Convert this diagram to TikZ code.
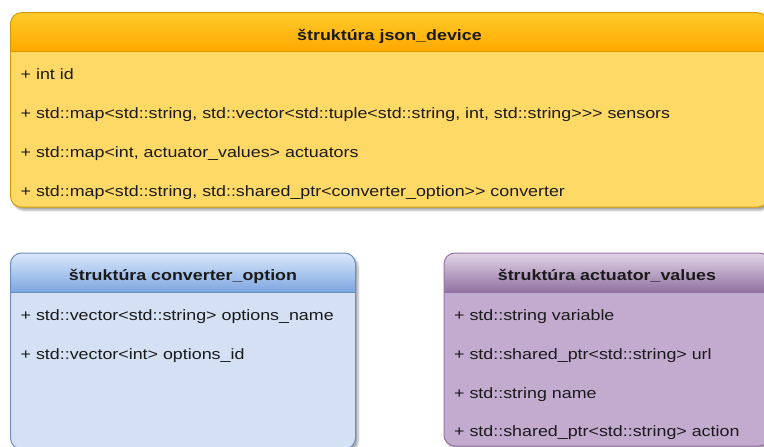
\documentclass[tikz,border=0pt]{standalone}
\usepackage{fontspec}
\setmainfont{Liberation Sans}[FakeStretch=1.19,Ligatures=TeXOff]
\usetikzlibrary{calc,shadows.blur}
\definecolor{ytop}{HTML}{FFCB2A}
\definecolor{ybot}{HTML}{FFA800}
\definecolor{ybody}{HTML}{FFD966}
\definecolor{ystroke}{HTML}{D79B00}
\definecolor{btop}{HTML}{DAE8FC}
\definecolor{bbot}{HTML}{7EA6E0}
\definecolor{bbody}{HTML}{D4E1F5}
\definecolor{bstroke}{HTML}{6C8EBF}
\definecolor{ptop}{HTML}{E1D5E7}
\definecolor{pbot}{HTML}{9272A3}
\definecolor{pbody}{HTML}{C3ABD0}
\definecolor{pstroke}{HTML}{9673A6}
\definecolor{txt}{HTML}{1A1A1A}
\tikzset{
  umlbox/.style={rectangle, rounded corners=11pt, inner sep=0pt, outer sep=0pt, anchor=north west,
    blur shadow={shadow xshift=2.5pt, shadow yshift=-3pt, shadow blur radius=2pt, shadow opacity=35}},
  attr/.style={anchor=base west, inner sep=0pt, font=\fontsize{15}{18}\selectfont, text=txt},
  boxtitle/.style={anchor=base, inner sep=0pt, font=\fontsize{15}{18}\selectfont\bfseries, text=txt},
}
\newcommand\umlheader[4]{%
  \begin{scope}
    \clip[rounded corners=11pt] (#1.south west) rectangle (#1.north east);
    \shade[top color=#2, bottom color=#3] (#1.north west) rectangle ($(#1.north east)+(0,-39)$);
  \end{scope}
  \draw[#4, line width=1pt] ($(#1.north west)+(0,-39)$) -- ($(#1.north east)+(0,-39)$);
  \draw[#4, line width=1pt, rounded corners=11pt] (#1.south west) rectangle (#1.north east);
}
\begin{document}
\begin{tikzpicture}[x=1pt,y=1pt]
\useasboundingbox (0,0) rectangle (764,-447);
% boxes
\node[umlbox, fill=ybody, minimum width=758pt, minimum height=194.5pt] (jd) at (10.5,-12.7) {};
\node[umlbox, fill=bbody, minimum width=345pt, minimum height=196pt] (co) at (10.5,-253) {};
\node[umlbox, fill=pbody, minimum width=326pt, minimum height=193pt] (av) at (444,-253) {};
\umlheader{jd}{ytop}{ybot}{ystroke}
\umlheader{co}{btop}{bbot}{bstroke}
\umlheader{av}{ptop}{pbot}{pstroke}
% titles
\node[boxtitle] (jdt) at ($(jd.north)+(0,-27.3)$) {štruktúra json\_device};
\node[boxtitle] (cot) at ($(co.north)+(0,-27.3)$) {štruktúra converter\_option};
\node[boxtitle] (avt) at ($(av.north)+(0,-27.3)$) {štruktúra actuator\_values};
% json_device
\node[attr] (jd1) at (20.5,-79.2) {+ int id};
\node[attr] (jd2) at (20.5,-118.5) {+ std::map<std::string, std::vector<std::tuple<std::string, int, std::string>{}>{}> sensors};
\node[attr] (jd3) at (20.5,-157.6) {+ std::map<int, actuator\_values> actuators};
\node[attr] (jd4) at (20.5,-196.4) {+ std::map<std::string, std::shared\_ptr<converter\_option>{}> converter};
% converter_option
\node[attr] (co1) at (20.5,-320) {+ std::vector<std::string> options\_name};
\node[attr] (co2) at (20.5,-359) {+ std::vector<int> options\_id};
% actuator_values
\node[attr] (av1) at (454,-320) {+ std::string variable};
\node[attr] (av2) at (454,-359) {+ std::shared\_ptr<std::string> url};
\node[attr] (av3) at (454,-398) {+ std::string name};
\node[attr] (av4) at (454,-436.8) {+ std::shared\_ptr<std::string> action};
\end{tikzpicture}
\end{document}
